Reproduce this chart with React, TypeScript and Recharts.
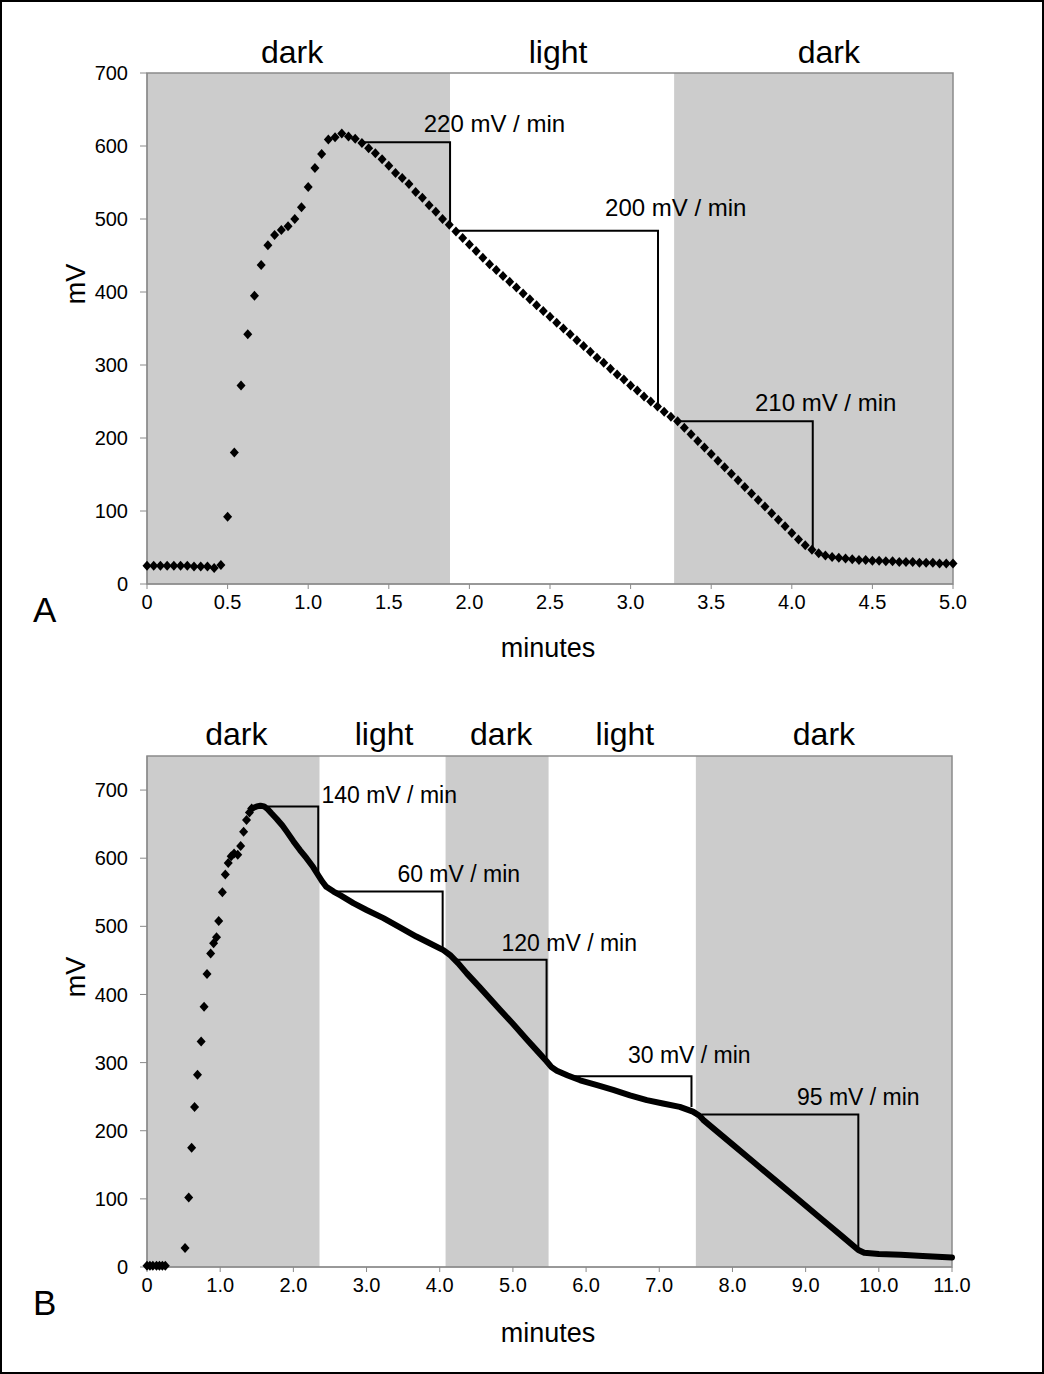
import React from "react";
import {
  ComposedChart,
  Scatter,
  Line,
  XAxis,
  YAxis,
  ReferenceArea,
} from "recharts";

const FONT = '"Liberation Sans", Arial, sans-serif';

// ---- panel A: one reading every 2.5 s ----
const secondsA = [
  0, 2.5, 5, 7.5, 10, 12.5, 15, 17.5, 20, 22.5, 25, 27.5, 30, 32.5, 35, 37.5, 40, 42.5, 45, 47.5,
  50, 52.5, 55, 57.5, 60, 62.5, 65, 67.5, 70, 72.5, 75, 77.5, 80, 82.5, 85, 87.5, 90, 92.5, 95, 97.5,
  100, 102.5, 105, 107.5, 110, 112.5, 115, 117.5, 120, 122.5, 125, 127.5, 130, 132.5, 135, 137.5,
  140, 142.5, 145, 147.5, 150, 152.5, 155, 157.5, 160, 162.5, 165, 167.5, 170, 172.5, 175, 177.5,
  180, 182.5, 185, 187.5, 190, 192.5, 195, 197.5, 200, 202.5, 205, 207.5, 210, 212.5, 215, 217.5,
  220, 222.5, 225, 227.5, 230, 232.5, 235, 237.5, 240, 242.5, 245, 247.5, 250, 252.5, 255, 257.5,
  260, 262.5, 265, 267.5, 270, 272.5, 275, 277.5, 280, 282.5, 285, 287.5, 290, 292.5, 295, 297.5, 300,
];
const mvA = [
  25, 25, 25, 25, 25, 25, 25, 24, 24, 24, 22, 26,
  92, 180, 272, 342, 395, 437, 464, 478, 485, 490, 500,
  516, 544, 570, 589, 609, 612, 617, 613, 610, 604, 597,
  590, 582, 573, 563, 556, 548, 537, 529, 519, 510, 500, 492,
  483, 474, 465, 456, 447, 438, 430, 422, 414, 406, 398, 390, 382, 374, 366, 358, 350,
  342, 334, 326, 318, 310, 303, 295, 287, 280, 272, 265, 257, 250, 243, 236, 229,
  223, 214, 205, 196, 187, 178, 169, 160, 151, 142, 133, 124, 115, 106, 97, 88, 79, 70, 61, 53, 47,
  42, 39, 37, 36, 35, 34, 33, 33, 32, 32, 31, 31, 30, 30, 30, 29, 29, 29, 28, 28, 28,
];
const bandsA = [
  { x1: 0, x2: 1.88, dark: true },
  { x1: 1.88, x2: 3.27, dark: false },
  { x1: 3.27, x2: 5.0, dark: true },
];
const bandLabelsA = [
  { x: 0.9, text: "dark" },
  { x: 2.55, text: "light" },
  { x: 4.23, text: "dark" },
];
const bracketsA = [
  [[1.34, 605], [1.88, 605], [1.88, 492]],
  [[1.9, 484], [3.17, 484], [3.17, 248]],
  [[3.29, 223], [4.13, 223], [4.13, 49]],
];
const slopeLabelsA = [
  { x: 2.155, y: 619, text: "220 mV / min" },
  { x: 3.28, y: 504, text: "200 mV / min" },
  { x: 4.21, y: 237, text: "210 mV / min" },
];
const xTicksA = [0, 0.5, 1, 1.5, 2, 2.5, 3, 3.5, 4, 4.5, 5];

// ---- panel B ----
const sparseMinB = [
  0, 0.04, 0.08, 0.13, 0.17, 0.21, 0.25,
  0.52, 0.57, 0.61, 0.65, 0.69, 0.74, 0.78, 0.82, 0.87, 0.91, 0.95, 0.98,
  1.03, 1.07, 1.11, 1.15, 1.19, 1.24, 1.28, 1.32, 1.36, 1.4, 1.43,
];
const sparseMvB = [
  2, 2, 2, 2, 2, 2, 2,
  28, 102, 175, 235, 282, 331, 382, 430, 460, 475, 484, 508,
  550, 576, 593, 603, 607, 605, 618, 639, 656, 667, 673,
];
const denseMinB = [
  1.43, 1.5, 1.55, 1.6, 1.65, 1.7, 1.77, 1.85, 1.91, 2.0, 2.09, 2.18, 2.27, 2.34, 2.4, 2.45,
  2.55, 2.65, 2.82, 3.0, 3.23, 3.45, 3.68, 3.85, 4.05, 4.14, 4.25, 4.37, 4.55, 4.82, 5.0,
  5.19, 5.35, 5.46, 5.53, 5.6, 5.75, 5.92, 6.15, 6.37, 6.6, 6.83, 7.05, 7.28, 7.46, 7.55,
  7.6, 7.8, 8.0, 8.3, 8.6, 8.9, 9.2, 9.5, 9.72, 9.8, 10.0, 10.3, 10.6, 11.0,
];
const denseMvB = [
  673, 676, 677, 676, 672, 666, 658, 648, 639, 625, 612, 600, 587, 575, 565, 558,
  551, 545, 534, 524, 512, 499, 485, 476, 465, 458, 446, 431, 410, 378, 357,
  334, 315, 302, 293, 288, 281, 274, 267, 260, 252, 245, 240, 235, 228, 222,
  216, 198, 180, 153, 126, 99, 72, 45, 25, 21, 19, 18, 16, 14,
];
const bandsB = [
  { x1: 0, x2: 2.36, dark: true },
  { x1: 2.36, x2: 4.08, dark: false },
  { x1: 4.08, x2: 5.49, dark: true },
  { x1: 5.49, x2: 7.5, dark: false },
  { x1: 7.5, x2: 11.0, dark: true },
];
const bandLabelsB = [
  { x: 1.22, text: "dark" },
  { x: 3.24, text: "light" },
  { x: 4.84, text: "dark" },
  { x: 6.53, text: "light" },
  { x: 9.25, text: "dark" },
];
const bracketsB = [
  [[1.65, 676], [2.34, 676], [2.34, 578]],
  [[2.57, 551], [4.04, 551], [4.04, 468]],
  [[4.21, 451], [5.46, 451], [5.46, 304]],
  [[5.8, 280], [7.44, 280], [7.44, 235]],
  [[7.58, 224], [9.72, 224], [9.72, 25]],
];
const slopeLabelsB = [
  { x: 3.31, y: 681, text: "140 mV / min" },
  { x: 4.26, y: 565, text: "60 mV / min" },
  { x: 5.77, y: 464, text: "120 mV / min" },
  { x: 7.41, y: 300, text: "30 mV / min" },
  { x: 9.72, y: 238, text: "95 mV / min" },
];
const xTicksB = [0, 1, 2, 3, 4, 5, 6, 7, 8, 9, 10, 11];

const yTicks = [0, 100, 200, 300, 400, 500, 600, 700];

const Diamond = (props: any) => {
  const { cx, cy } = props;
  if (cx == null || cy == null) return <g />;
  return (
    <polygon
      points={`${cx},${cy - 5} ${cx + 4.5},${cy} ${cx},${cy + 5} ${cx - 4.5},${cy}`}
      fill="#000"
    />
  );
};

const textShape = (size: number, dy: number) => (props: any) => {
  const { cx, cy, payload } = props;
  if (cx == null || cy == null) return <g />;
  return (
    <text x={cx} y={cy} dy={dy} textAnchor="middle" fontSize={size} fontFamily={FONT} fill="#000">
      {payload.text}
    </text>
  );
};

const fmtX = (v: number) => (v === 0 ? "0" : v.toFixed(1));

type PanelProps = {
  height: number;
  margin: { top: number; right: number; bottom: number; left: number };
  xMax: number;
  yMax: number;
  xTicks: number[];
  bands: { x1: number; x2: number; dark: boolean }[];
  bandLabels: { x: number; text: string }[];
  bandDy: number;
  points: { x: number; y: number }[];
  dense?: { x: number; y: number }[];
  brackets: number[][][];
  slopeLabels: { x: number; y: number; text: string }[];
  slopeFont: number;
};

function Panel(p: PanelProps) {
  return (
    <ComposedChart width={1044} height={p.height} margin={p.margin}>
      <XAxis
        type="number"
        dataKey="x"
        domain={[0, p.xMax]}
        ticks={p.xTicks}
        interval={0}
        tickFormatter={fmtX}
        tick={{ fontSize: 20, fill: "#000", fontFamily: FONT }}
        tickLine={{ stroke: "#8a8a8a" }}
        axisLine={{ stroke: "#8a8a8a" }}
        tickSize={5}
        tickMargin={6}
        height={30}
      />
      <YAxis
        type="number"
        dataKey="y"
        domain={[0, p.yMax]}
        ticks={yTicks}
        interval={0}
        tick={{ fontSize: 20, fill: "#000", fontFamily: FONT }}
        tickLine={{ stroke: "#8a8a8a" }}
        axisLine={{ stroke: "#8a8a8a" }}
        tickSize={7}
        tickMargin={12}
        width={80}
      />
      {p.bands.map((b, i) => (
        <ReferenceArea
          key={"band" + i}
          x1={b.x1}
          x2={b.x2}
          y1={0}
          y2={p.yMax}
          fill={b.dark ? "#cccccc" : "#ffffff"}
          fillOpacity={1}
          stroke="none"
        />
      ))}
      <ReferenceArea
        x1={0}
        x2={p.xMax}
        y1={0}
        y2={p.yMax}
        fill="none"
        stroke="#8a8a8a"
        strokeWidth={1.5}
      />
      {p.brackets.map((br, i) => (
        <Line
          key={"br" + i}
          data={br.map(([x, y]) => ({ x, y }))}
          dataKey="y"
          type="linear"
          stroke="#000"
          strokeWidth={2}
          dot={false}
          activeDot={false}
          isAnimationActive={false}
        />
      ))}
      {p.dense && (
        <Line
          data={p.dense}
          dataKey="y"
          type="linear"
          stroke="#000"
          strokeWidth={6}
          strokeLinejoin="round"
          strokeLinecap="round"
          dot={false}
          activeDot={false}
          isAnimationActive={false}
        />
      )}
      <Scatter data={p.points} dataKey="y" shape={Diamond} isAnimationActive={false} />
      <Scatter
        data={p.slopeLabels}
        dataKey="y"
        shape={textShape(p.slopeFont, 0)}
        isAnimationActive={false}
      />
      <Scatter
        data={p.bandLabels.map((b) => ({ x: b.x, y: p.yMax, text: b.text }))}
        dataKey="y"
        shape={textShape(32, p.bandDy)}
        isAnimationActive={false}
      />
    </ComposedChart>
  );
}

export default function App() {
  const pointsA = secondsA.map((s, i) => ({ x: s / 60, y: mvA[i] }));
  const pointsB = sparseMinB.map((x, i) => ({ x, y: sparseMvB[i] }));
  const denseB = denseMinB.map((x, i) => ({ x, y: denseMvB[i] }));

  return (
    <div
      style={{
        position: "absolute",
        left: 0,
        top: 0,
        width: 1044,
        height: 1374,
        background: "#fff",
        fontFamily: FONT,
      }}
    >
      <div style={{ position: "absolute", left: 0, top: 0 }}>
        <Panel
          height={690}
          margin={{ top: 73, right: 91, bottom: 76, left: 67 }}
          xMax={5}
          yMax={700}
          xTicks={xTicksA}
          bands={bandsA}
          bandLabels={bandLabelsA}
          bandDy={-10}
          points={pointsA}
          brackets={bracketsA}
          slopeLabels={slopeLabelsA}
          slopeFont={24}
        />
      </div>
      <div style={{ position: "absolute", left: 0, top: 690 }}>
        <Panel
          height={684}
          margin={{ top: 66, right: 92, bottom: 77, left: 67 }}
          xMax={11}
          yMax={750}
          xTicks={xTicksB}
          bands={bandsB}
          bandLabels={bandLabelsB}
          bandDy={-11}
          points={pointsB}
          dense={denseB}
          brackets={bracketsB}
          slopeLabels={slopeLabelsB}
          slopeFont={23}
        />
      </div>
      <svg
        width={1044}
        height={1374}
        style={{ position: "absolute", left: 0, top: 0, pointerEvents: "none" }}
      >
        <g fontFamily={FONT} fill="#000">
          <text x={548} y={657} fontSize={27} textAnchor="middle">minutes</text>
          <text transform="translate(85,284) rotate(-90)" fontSize={27} textAnchor="middle">mV</text>
          <text x={33} y={622} fontSize={35}>A</text>
          <text x={548} y={1342} fontSize={27} textAnchor="middle">minutes</text>
          <text transform="translate(85,977) rotate(-90)" fontSize={27} textAnchor="middle">mV</text>
          <text x={33} y={1315} fontSize={35}>B</text>
        </g>
        <rect x={1} y={1} width={1042} height={1372} fill="none" stroke="#000" strokeWidth={2} />
      </svg>
    </div>
  );
}
